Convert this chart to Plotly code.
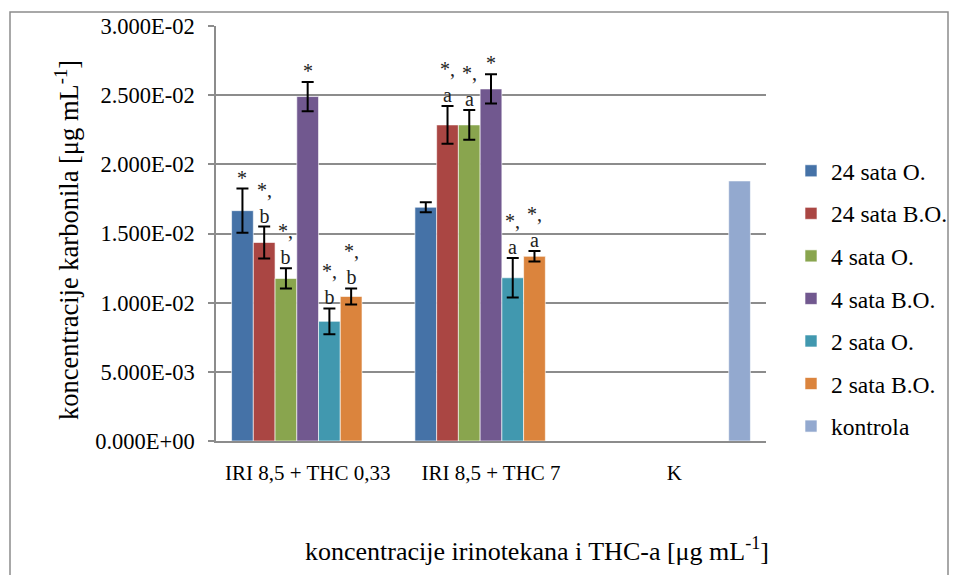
import plotly.graph_objects as go

# Kategorije na x osi
categories = ['IRI 8,5 + THC 0,33', 'IRI 8,5 + THC 7', 'K']

# Vrijednosti koncentracije karbonila [ug/mL]
s24_o = [0.01665, 0.01690, None]
s24_bo = [0.01435, 0.02285, None]
s4_o = [0.01175, 0.02285, None]
s4_bo = [0.02490, 0.02545, None]
s2_o = [0.00865, 0.01180, None]
s2_bo = [0.01045, 0.01335, None]
kontrola = [None, None, 0.01880]

# Standardne devijacije
e24_o = [0.00160, 0.00036, 0]
e24_bo = [0.00115, 0.00136, 0]
e4_o = [0.00073, 0.00108, 0]
e4_bo = [0.00106, 0.00106, 0]
e2_o = [0.00093, 0.00142, 0]
e2_bo = [0.00058, 0.00038, 0]
e_k = [0, 0, 0]

# Oznake signifikantnosti
l24_o = ['*', '', '']
l24_bo = ['*,<br>b', '*,<br>a', '']
l4_o = ['*,<br>b', '*,<br>a', '']
l4_bo = ['*', '*', '']
l2_o = ['*,<br>b', '*,<br>a', '']
l2_bo = ['*,<br>b', '*,<br>a', '']
l_k = ['', '', '']

y_tickvals = [0, 0.005, 0.01, 0.015, 0.02, 0.025, 0.03]
y_ticktext = ['0.000E+00', '5.000E-03', '1.000E-02', '1.500E-02',
              '2.000E-02', '2.500E-02', '3.000E-02']

series = [
    ('24 sata O.', s24_o, e24_o, l24_o, '#4572A7'),
    ('24 sata B.O.', s24_bo, e24_bo, l24_bo, '#AA4643'),
    ('4 sata O.', s4_o, e4_o, l4_o, '#89A54E'),
    ('4 sata B.O.', s4_bo, e4_bo, l4_bo, '#71588F'),
    ('2 sata O.', s2_o, e2_o, l2_o, '#4198AF'),
    ('2 sata B.O.', s2_bo, e2_bo, l2_bo, '#DB843D'),
    ('kontrola', kontrola, e_k, l_k, '#93A9CF'),
]

FONT = 'Liberation Serif, Times New Roman, serif'
GRID = '#8c8c8c'

# stranica ima 8px margine (body), pa je figura manja za 16px
OFF = 8
W, H = 963 - 2 * OFF, 583 - 2 * OFF
L, T = 216 - OFF, 26 - OFF
plot_w, plot_h = 550, 415
R, B = W - L - plot_w, H - T - plot_h


def px(xp):
    return (xp - 216) / plot_w


def py(yp):
    return (441 - yp) / plot_h


bargap = 0.17
slot = plot_w / len(categories) * (1 - bargap) / len(series)

fig = go.Figure()
annotations = []

for j, (name, vals, errs, labs, col) in enumerate(series):
    fig.add_trace(go.Bar(
        x=categories,
        y=vals,
        name=name,
        legendgroup=name,
        marker=dict(color=col, line=dict(color='rgba(255,255,255,0.6)', width=1)),
        error_y=dict(type='data', array=errs, visible=any(e > 0 for e in errs),
                     color='black', thickness=2, width=6),
    ))
    # oznake iznad stupaca
    for c, v, e, t in zip(categories, vals, errs, labs):
        if v is None or not t:
            continue
        annotations.append(dict(
            x=c, y=v + e, xref='x', yref='y',
            text=t, showarrow=False, align='center',
            xanchor='center', yanchor='bottom',
            xshift=(j - (len(series) - 1) / 2) * slot, yshift=-2,
            font=dict(family=FONT, size=20, color='#222'),
        ))

# naslovi osi
annotations.append(dict(
    x=px(537), y=py(549), xref='paper', yref='paper',
    text='koncentracije irinotekana i THC-a [μg mL<sup>-1</sup>]',
    showarrow=False, xanchor='center', yanchor='middle',
    font=dict(family=FONT, size=26, color='black'),
))
annotations.append(dict(
    x=px(67), y=py(240), xref='paper', yref='paper',
    text='koncentracije karbonila [μg mL<sup>-1</sup>]', textangle=-90,
    showarrow=False, xanchor='center', yanchor='middle',
    font=dict(family=FONT, size=26.5, color='black'),
))

fig.update_layout(
    width=W, height=H,
    margin=dict(l=L, r=R, t=T, b=B, autoexpand=False),
    paper_bgcolor='white', plot_bgcolor='white',
    barmode='group', bargap=bargap, bargroupgap=0,
    font=dict(family=FONT, color='black'),
    showlegend=True,
    legend=dict(
        x=px(791), xanchor='left',
        y=py(149), yanchor='top',
        font=dict(family=FONT, size=23.5, color='black'),
        tracegroupgap=9, bgcolor='rgba(0,0,0,0)',
    ),
    annotations=annotations,
    shapes=[dict(
        type='rect', xref='paper', yref='paper',
        x0=px(10), x1=px(948), y0=py(620), y1=py(12),
        line=dict(color=GRID, width=1.5), layer='below',
    )],
)

fig.update_xaxes(
    showline=True, linecolor=GRID, linewidth=1.5,
    ticks='', ticklabelstandoff=12, automargin=False,
    tickfont=dict(family=FONT, size=21, color='black'),
)

fig.update_yaxes(
    range=[0, 0.03], tickvals=y_tickvals, ticktext=y_ticktext,
    showgrid=True, gridcolor=GRID, gridwidth=1.5,
    showline=True, linecolor=GRID, linewidth=1.5,
    ticks='outside', ticklen=6, tickcolor=GRID, tickwidth=1.5,
    ticklabelstandoff=9, zeroline=False, automargin=False,
    tickfont=dict(family=FONT, size=22.5, color='black'),
)

fig.write_html('out.html')
